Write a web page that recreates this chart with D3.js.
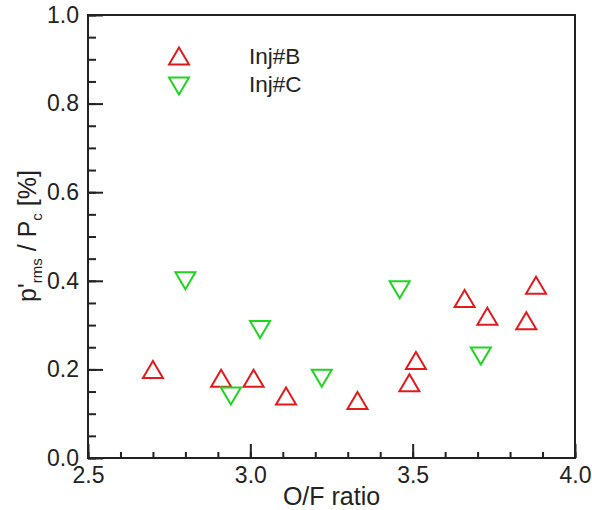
<!DOCTYPE html>
<html>
<head>
<meta charset="utf-8">
<script src="https://cdn.jsdelivr.net/npm/d3@7"></script>
<style>
  body { margin: 0; background: #fff; }
  svg { font-family: "Liberation Sans", Arial, sans-serif; }
</style>
</head>
<body>
<div id="chart"></div>
<script>
// data
const injB_of = [2.70, 2.91, 3.01, 3.11, 3.33, 3.49, 3.51, 3.66, 3.73, 3.85, 3.88];
const injB_p  = [0.20, 0.18, 0.18, 0.14, 0.13, 0.17, 0.22, 0.36, 0.32, 0.31, 0.39];
const injC_of = [2.80, 2.94, 3.03, 3.22, 3.46, 3.71];
const injC_p  = [0.40, 0.14, 0.29, 0.18, 0.38, 0.23];
const xTicks = [2.5, 3.0, 3.5, 4.0];
const yTicks = [0.0, 0.2, 0.4, 0.6, 0.8, 1.0];
const seriesNames = ["Inj#B", "Inj#C"];

let width = 592, height = 510;
let margin = { top: 15, right: 17, bottom: 52, left: 88 };
let innerW = width - margin.left - margin.right;
let innerH = height - margin.top - margin.bottom;

let svg = d3.select("#chart").append("svg")
    .attr("width", width)
    .attr("height", height);

let g = svg.append("g").attr("transform", `translate(${margin.left},${margin.top})`);

let x = d3.scaleLinear().domain([2.5, 4.0]).range([0, innerW]);
let y = d3.scaleLinear().domain([0, 1.0]).range([innerH, 0]);

// minor ticks
g.append("g")
    .attr("transform", `translate(0,${innerH})`)
    .call(d3.axisBottom(x).tickValues(d3.range(2.5, 4.0001, 0.1)).tickSize(-6).tickFormat(""))
    .call(a => a.select(".domain").remove());
g.append("g")
    .call(d3.axisLeft(y).tickValues(d3.range(0, 1.0001, 0.05)).tickSize(-8).tickFormat(""))
    .call(a => a.select(".domain").remove());

// major ticks + labels
let xAxis = g.append("g")
    .attr("transform", `translate(0,${innerH})`)
    .call(d3.axisBottom(x).tickValues(xTicks).tickSize(-14).tickPadding(8).tickFormat(d3.format(".1f")));
let yAxis = g.append("g")
    .call(d3.axisLeft(y).tickValues(yTicks).tickSize(-15).tickPadding(9).tickFormat(d3.format(".1f")));

[xAxis, yAxis].forEach(a => {
    a.selectAll("text").attr("font-size", 23).attr("fill", "#222").attr("font-family", "Liberation Sans, Arial, sans-serif");
    a.select(".domain").remove();
});
xAxis.selectAll("text").attr("dy", "0.72em");

g.selectAll(".tick line").attr("stroke", "#222").attr("stroke-width", 2);

// frame
g.append("rect")
    .attr("width", innerW)
    .attr("height", innerH)
    .attr("fill", "none")
    .attr("stroke", "#222")
    .attr("stroke-width", 2);

// triangle markers
const tw = 20, th = 17;
const upTri = `M0,${-th/2}L${tw/2},${th/2}L${-tw/2},${th/2}Z`;
const downTri = `M0,${th/2}L${tw/2},${-th/2}L${-tw/2},${-th/2}Z`;
const red = "#e31a1c", green = "#1fd51f";

g.selectAll(".ptB")
    .data(injB_of.map((v, i) => [v, injB_p[i]]))
    .enter().append("path")
    .attr("d", upTri)
    .attr("transform", d => `translate(${x(d[0])},${y(d[1])})`)
    .attr("fill", "none").attr("stroke", red).attr("stroke-width", 2);

g.selectAll(".ptC")
    .data(injC_of.map((v, i) => [v, injC_p[i]]))
    .enter().append("path")
    .attr("d", downTri)
    .attr("transform", d => `translate(${x(d[0])},${y(d[1])})`)
    .attr("fill", "none").attr("stroke", green).attr("stroke-width", 2);

// legend
let legend = svg.append("g");
[[upTri, red], [downTri, green]].forEach((s, i) => {
    legend.append("path")
        .attr("d", s[0])
        .attr("transform", `translate(179,${56 + i * 30})`)
        .attr("fill", "none").attr("stroke", s[1]).attr("stroke-width", 2);
    legend.append("text")
        .attr("x", 249)
        .attr("y", 64 + i * 28)
        .attr("font-size", 22.5)
        .attr("fill", "#222")
        .text(seriesNames[i]);
});

// axis titles
svg.append("text")
    .attr("x", margin.left + innerW / 2)
    .attr("y", 505)
    .attr("text-anchor", "middle")
    .attr("font-size", 25)
    .attr("fill", "#222")
    .text("O/F ratio");

let yt = svg.append("text")
    .attr("transform", `translate(36,236) rotate(-90)`)
    .attr("text-anchor", "middle")
    .attr("font-size", 25)
    .attr("fill", "#222");
yt.append("tspan").text("p'");
yt.append("tspan").attr("font-size", 15).attr("dy", 6).text("rms");
yt.append("tspan").attr("dy", -6).text(" / P");
yt.append("tspan").attr("font-size", 15).attr("dy", 6).text("c");
yt.append("tspan").attr("dy", -6).text(" [%]");
</script>
</body>
</html>
